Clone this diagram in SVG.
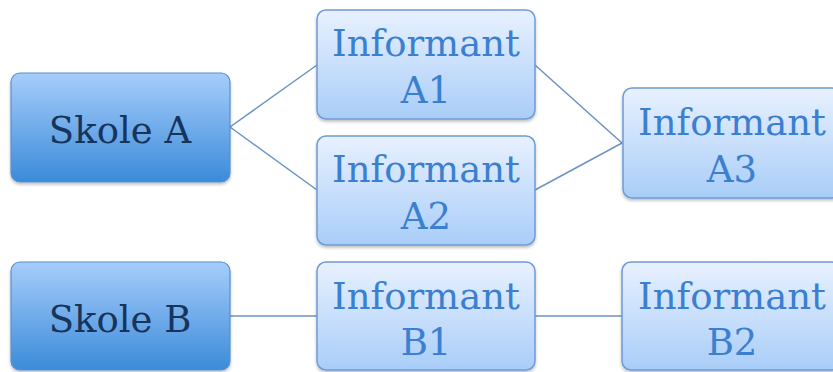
<svg xmlns="http://www.w3.org/2000/svg" width="833" height="372" viewBox="0 0 833 372">
<defs>
<linearGradient id="gSkole" x1="0" y1="0" x2="0" y2="1">
<stop offset="0" stop-color="#a6cdfb"/>
<stop offset="1" stop-color="#3b8bd9"/>
</linearGradient>
<linearGradient id="gInf" x1="0" y1="0" x2="0" y2="1">
<stop offset="0" stop-color="#e8f1ff"/>
<stop offset="1" stop-color="#a9cdf8"/>
</linearGradient>
<filter id="sh" x="-10%" y="-10%" width="120%" height="130%">
<feDropShadow dx="0" dy="2" stdDeviation="1.5" flood-color="#000" flood-opacity="0.25"/>
</filter>
</defs>
<style>
.skole{fill:url(#gSkole);stroke:#5b8fcc;stroke-width:1.2;filter:url(#sh)}
.inf{fill:url(#gInf);stroke:#6d9bd6;stroke-width:1.5;filter:url(#sh)}
.ts{font-family:"DejaVu Serif","Liberation Serif",serif;font-size:37px;fill:#17345c;text-anchor:middle}
.ti{font-family:"DejaVu Serif","Liberation Serif",serif;font-size:37px;fill:#3b80d0;text-anchor:middle}
.conn line{stroke:#6b93c4;stroke-width:1.5}
</style>
<g id="connectors" class="conn">
<line x1="230" y1="127" x2="317" y2="65"/>
<line x1="230" y1="127" x2="317" y2="190"/>
<line x1="535" y1="65" x2="622" y2="143"/>
<line x1="535" y1="190" x2="622" y2="143"/>
<line x1="230" y1="316" x2="317" y2="316"/>
<line x1="535" y1="316" x2="622" y2="316"/>
</g>
<g id="skoleA">
<rect class="skole" x="11" y="73" width="219" height="109" rx="9"/>
<text class="ts" x="120" y="143">Skole A</text>
</g>
<g id="informantA1">
<rect class="inf" x="317" y="10" width="218" height="109" rx="9"/>
<text class="ti" x="426" y="56">Informant</text>
<text class="ti" x="426" y="103">A1</text>
</g>
<g id="informantA2">
<rect class="inf" x="317" y="136" width="218" height="109" rx="9"/>
<text class="ti" x="426" y="182">Informant</text>
<text class="ti" x="426" y="229">A2</text>
</g>
<g id="informantA3">
<rect class="inf" x="623" y="88" width="218" height="110" rx="9"/>
<text class="ti" x="732" y="135">Informant</text>
<text class="ti" x="732" y="182">A3</text>
</g>
<g id="skoleB">
<rect class="skole" x="11" y="262" width="219" height="108" rx="9"/>
<text class="ts" x="120" y="332">Skole B</text>
</g>
<g id="informantB1">
<rect class="inf" x="317" y="262" width="218" height="108" rx="9"/>
<text class="ti" x="426" y="309">Informant</text>
<text class="ti" x="426" y="355">B1</text>
</g>
<g id="informantB2">
<rect class="inf" x="622" y="262" width="219" height="108" rx="9"/>
<text class="ti" x="732" y="309">Informant</text>
<text class="ti" x="732" y="355">B2</text>
</g>
</svg>
